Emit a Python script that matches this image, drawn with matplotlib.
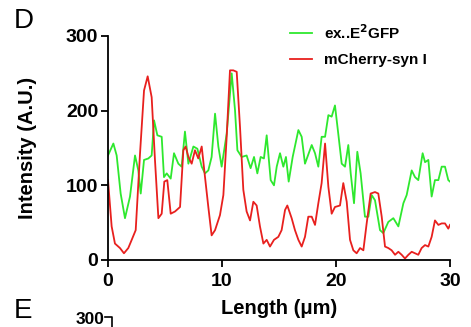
import matplotlib
matplotlib.use("Agg")
import matplotlib.pyplot as plt
from matplotlib.lines import Line2D

plt.rcParams['font.family'] = ['Liberation Sans', 'DejaVu Sans']

green_x = [0, 0.47, 0.76, 1.11, 1.49, 1.93, 2.37, 2.66, 2.87, 3.16, 3.54, 3.83, 4.04, 4.33, 4.71,
           4.91, 5.15, 5.50, 5.79, 6.17, 6.46, 6.75, 7.05, 7.49, 7.84, 8.22, 8.51, 8.80, 9.09, 9.39,
           9.68, 9.97, 10.41, 10.85, 11.14, 11.35, 11.73, 12.16, 12.51, 12.81, 13.10, 13.39, 13.68,
           13.92, 14.27, 14.56, 14.80, 15.09, 15.38, 15.61, 15.85, 16.20, 16.70, 16.99, 17.28, 17.87,
           18.16, 18.45, 18.74, 19.04, 19.33, 19.62, 19.91, 20.20, 20.50, 20.79, 21.08, 21.29, 21.58,
           21.87, 22.16, 22.54, 22.84, 23.13, 23.42, 23.86, 24.15, 24.59, 25.03, 25.47, 25.91, 26.20,
           26.64, 26.93, 27.22, 27.60, 27.81, 28.10, 28.39, 28.68, 28.98, 29.27, 29.56, 29.85, 30.0]
green_y = [140, 156, 140, 89, 56, 85, 140, 120, 89, 134, 136, 140, 187, 167, 165,
           111, 116, 109, 143, 129, 125, 172, 129, 152, 149, 125, 116, 120, 138, 196,
           152, 125, 169, 250, 201, 147, 138, 140, 123, 138, 116, 138, 136,
           167, 107, 100, 125, 143, 125, 138, 105, 138, 174, 165, 129, 154,
           143, 125, 165, 165, 194, 192, 207, 169, 129, 125, 154, 116, 76,
           145, 116, 58, 58, 87, 80, 40, 36, 51, 56, 45, 76, 87,
           120, 111, 107, 143, 131, 134, 85, 107, 107, 125, 125, 107, 105]

red_x = [0, 0.32, 0.61, 1.05, 1.40, 1.78, 2.08, 2.43, 2.81, 3.16, 3.48, 3.83, 4.12, 4.42, 4.71,
         4.94, 5.20, 5.50, 5.88, 6.32, 6.61, 6.81, 7.05, 7.34, 7.63, 7.92, 8.22, 8.51, 8.80, 9.09,
         9.39, 9.82, 10.12, 10.41, 10.70, 10.99, 11.29, 11.58, 11.87, 12.16, 12.46, 12.75, 13.04,
         13.33, 13.63, 13.92, 14.21, 14.56, 14.94, 15.23, 15.53, 15.73, 16.11, 16.40, 16.70, 16.99,
         17.28, 17.57, 17.87, 18.16, 18.45, 18.74, 19.04, 19.33, 19.62, 19.91, 20.35, 20.64, 20.94,
         21.23, 21.52, 21.81, 22.11, 22.40, 22.69, 23.04, 23.42, 23.71, 24.01, 24.30, 24.59, 24.88,
         25.18, 25.47, 25.76, 26.05, 26.35, 26.64, 26.93, 27.22, 27.51, 27.81, 28.10, 28.39, 28.68,
         28.98, 29.27, 29.56, 29.85, 30.0]
red_y = [107, 45, 22, 16, 9, 16, 27, 40, 143, 227, 246, 218, 134, 56, 62,
         105, 107, 62, 65, 71, 147, 152, 138, 129, 147, 136, 152, 111, 71, 33,
         40, 60, 87, 165, 254, 254, 252, 178, 94, 65, 53, 78, 73,
         45, 22, 27, 18, 27, 31, 40, 67, 73, 56, 40, 27, 18,
         31, 58, 58, 47, 76, 103, 156, 98, 62, 71, 73, 103, 78,
         27, 13, 9, 16, 13, 49, 89, 91, 89, 58, 18, 16, 13,
         7, 11, 7, 2, 7, 11, 9, 7, 16, 20, 18, 31, 53,
         47, 49, 49, 42, 47]

x_ticks = [0, 10, 20, 30]
y_ticks = [0, 100, 200, 300]
labels = ["ex..E$^\\mathbf{2}$GFP", "mCherry-syn I"]

W, H = 471, 327
fig = plt.figure(figsize=(W / 100, H / 100), dpi=100)
ax = fig.add_axes([108 / W, 1 - 260 / H, (450 - 108) / W, (260 - 36) / H])

ax.plot(green_x, green_y, color='#2ee82e', lw=1.3, label=labels[0])
ax.plot(red_x, red_y, color='#e8201e', lw=1.3, label=labels[1])

ax.set_xlim(0, 30)
ax.set_ylim(0, 300)
ax.set_xticks(x_ticks)
ax.set_yticks(y_ticks)
for s in ['top', 'right']:
    ax.spines[s].set_visible(False)
for s in ['left', 'bottom']:
    ax.spines[s].set_linewidth(1.3)
ax.tick_params(direction='out', length=5, width=1.3, labelsize=14, pad=2)
ax.tick_params(axis='x', pad=4)
for t in ax.get_xticklabels() + ax.get_yticklabels():
    t.set_fontweight('bold')

ax.set_xlabel("Length (\u03bcm)", fontsize=14.5, fontweight='bold', labelpad=7)
ax.set_ylabel("Intensity (A.U.)", fontsize=14.5, fontweight='bold', labelpad=21)

leg = ax.legend(loc='upper left', bbox_to_anchor=(176 / 342, 1.085), frameon=False,
                prop={'weight': 'bold', 'size': 11}, handlelength=1.4,
                handletextpad=0.8, labelspacing=0.75, borderaxespad=0)

fig.text(14 / W, 1 - 21 / H, "D", fontsize=20, va='center', ha='left')
fig.text(14 / W, 1 - 311 / H, "E", fontsize=20, va='center', ha='left')
fig.text(105 / W, 1 - 320 / H, "300", fontsize=12.5, fontweight='bold', va='center', ha='right')
fig.add_artist(Line2D([105 / W, 112 / W, 112 / W], [1 - 317 / H, 1 - 317 / H, 0],
                      color='black', lw=1.2, transform=fig.transFigure))

fig.savefig("out.png", dpi=100)
